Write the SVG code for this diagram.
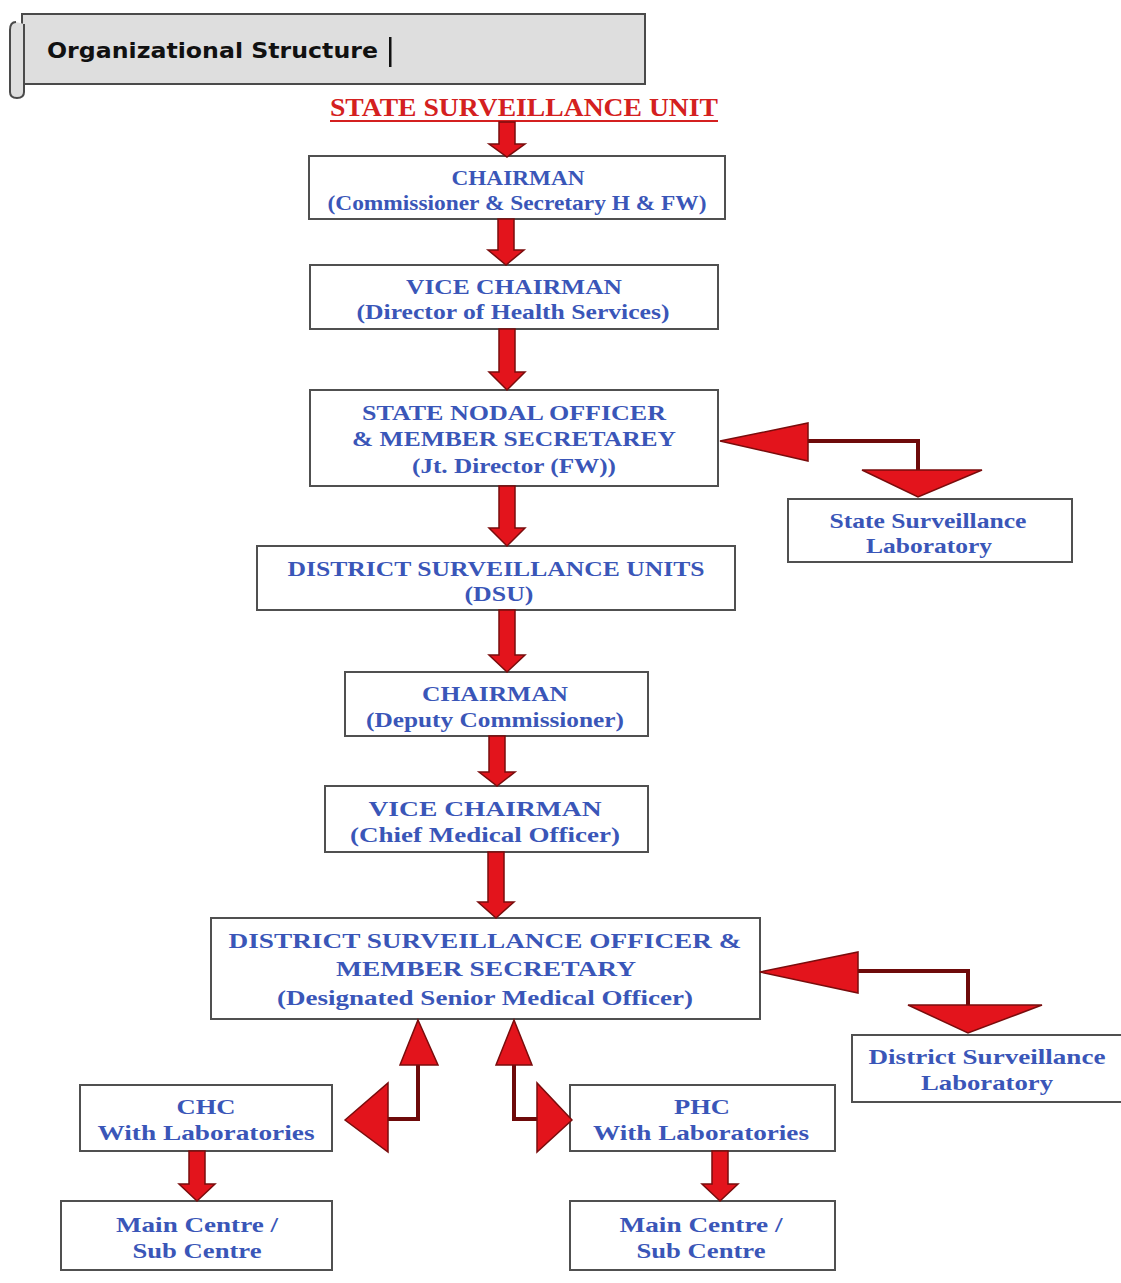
<svg xmlns="http://www.w3.org/2000/svg" width="1121" height="1283" viewBox="0 0 1121 1283">
<style>
.box{fill:#fff;stroke:#505050;stroke-width:2}
.t{font-family:"Liberation Serif","DejaVu Serif",serif;font-weight:bold;font-size:22px;fill:#3a56b8;text-anchor:middle}
.arr{fill:#e3141c;stroke:#7a0c0c;stroke-width:1.5;stroke-linejoin:miter}
.ln{fill:none;stroke:#6e0a0a;stroke-width:4}
</style>
<rect width="1121" height="1283" fill="#fff"/>
<g id="title">
<path d="M22 14 H645 V84 H22 Z" fill="#dedede" stroke="#4a4a4a" stroke-width="2"/>
<path d="M16 22 Q10 22 10 30 V92 Q10 98 17 98 Q24 98 24 92 V24" fill="#dedede" stroke="#4a4a4a" stroke-width="2"/>
<text x="47" y="58" font-family="DejaVu Sans, sans-serif" font-weight="bold" font-size="22" fill="#111" textLength="331" lengthAdjust="spacingAndGlyphs">Organizational Structure</text>
<rect x="389" y="37" width="2.5" height="30" fill="#111"/>
</g>
<g id="unit">
<text x="524" y="116" font-family="Liberation Serif, serif" font-weight="bold" font-size="26" fill="#d42020" text-anchor="middle" textLength="388" lengthAdjust="spacingAndGlyphs">STATE SURVEILLANCE UNIT</text>
<rect x="330" y="120" width="388" height="2" fill="#d42020"/>
</g>
<g id="n-chairman1"><rect class="box" x="309" y="156" width="416" height="63"/>
<text class="t" x="518" y="185" textLength="133" lengthAdjust="spacingAndGlyphs">CHAIRMAN</text>
<text class="t" x="517" y="210" textLength="379" lengthAdjust="spacingAndGlyphs">(Commissioner &amp; Secretary H &amp; FW)</text></g>
<g id="n-vice1"><rect class="box" x="310" y="265" width="408" height="64"/>
<text class="t" x="514" y="294" textLength="216" lengthAdjust="spacingAndGlyphs">VICE CHAIRMAN</text>
<text class="t" x="513" y="319" textLength="313" lengthAdjust="spacingAndGlyphs">(Director of Health Services)</text></g>
<g id="n-nodal"><rect class="box" x="310" y="390" width="408" height="96"/>
<text class="t" x="514" y="420" textLength="304" lengthAdjust="spacingAndGlyphs">STATE NODAL OFFICER</text>
<text class="t" x="514" y="446" textLength="324" lengthAdjust="spacingAndGlyphs">&amp; MEMBER SECRETAREY</text>
<text class="t" x="514" y="473" textLength="204" lengthAdjust="spacingAndGlyphs">(Jt. Director (FW))</text></g>
<g id="n-statelab"><rect class="box" x="788" y="499" width="284" height="63"/>
<text class="t" x="928" y="528" textLength="197" lengthAdjust="spacingAndGlyphs">State Surveillance</text>
<text class="t" x="929" y="553" textLength="126" lengthAdjust="spacingAndGlyphs">Laboratory</text></g>
<g id="n-dsu"><rect class="box" x="257" y="546" width="478" height="64"/>
<text class="t" x="496" y="576" textLength="417" lengthAdjust="spacingAndGlyphs">DISTRICT SURVEILLANCE UNITS</text>
<text class="t" x="499" y="601" textLength="69" lengthAdjust="spacingAndGlyphs">(DSU)</text></g>
<g id="n-chairman2"><rect class="box" x="345" y="672" width="303" height="64"/>
<text class="t" x="495" y="701" textLength="146" lengthAdjust="spacingAndGlyphs">CHAIRMAN</text>
<text class="t" x="495" y="727" textLength="258" lengthAdjust="spacingAndGlyphs">(Deputy Commissioner)</text></g>
<g id="n-vice2"><rect class="box" x="325" y="786" width="323" height="66"/>
<text class="t" x="485" y="816" textLength="233" lengthAdjust="spacingAndGlyphs">VICE CHAIRMAN</text>
<text class="t" x="485" y="842" textLength="270" lengthAdjust="spacingAndGlyphs">(Chief Medical Officer)</text></g>
<g id="n-dso"><rect class="box" x="211" y="918" width="549" height="101"/>
<text class="t" x="485" y="948" textLength="513" lengthAdjust="spacingAndGlyphs">DISTRICT SURVEILLANCE OFFICER &amp;</text>
<text class="t" x="486" y="976" textLength="300" lengthAdjust="spacingAndGlyphs">MEMBER SECRETARY</text>
<text class="t" x="485" y="1005" textLength="416" lengthAdjust="spacingAndGlyphs">(Designated Senior Medical Officer)</text></g>
<g id="n-distlab"><rect class="box" x="852" y="1035" width="272" height="67"/>
<text class="t" x="987" y="1064" textLength="237" lengthAdjust="spacingAndGlyphs">District Surveillance</text>
<text class="t" x="987" y="1090" textLength="132" lengthAdjust="spacingAndGlyphs">Laboratory</text></g>
<g id="n-chc"><rect class="box" x="80" y="1085" width="252" height="66"/>
<text class="t" x="206" y="1114" textLength="59" lengthAdjust="spacingAndGlyphs">CHC</text>
<text class="t" x="206" y="1140" textLength="217" lengthAdjust="spacingAndGlyphs">With Laboratories</text></g>
<g id="n-phc"><rect class="box" x="570" y="1085" width="265" height="66"/>
<text class="t" x="702" y="1114" textLength="56" lengthAdjust="spacingAndGlyphs">PHC</text>
<text class="t" x="701" y="1140" textLength="216" lengthAdjust="spacingAndGlyphs">With Laboratories</text></g>
<g id="n-main1"><rect class="box" x="61" y="1201" width="271" height="69"/>
<text class="t" x="197" y="1232" textLength="162" lengthAdjust="spacingAndGlyphs">Main Centre /</text>
<text class="t" x="197" y="1258" textLength="129" lengthAdjust="spacingAndGlyphs">Sub Centre</text></g>
<g id="n-main2"><rect class="box" x="570" y="1201" width="265" height="69"/>
<text class="t" x="701" y="1232" textLength="163" lengthAdjust="spacingAndGlyphs">Main Centre /</text>
<text class="t" x="701" y="1258" textLength="129" lengthAdjust="spacingAndGlyphs">Sub Centre</text></g>
<g id="connectors">
<path class="arr" d="M499 122 H515 V144 H525 L507 157 L489 144 H499 Z"/>
<path class="arr" d="M498 219 H514 V250 H524 L506 265 L488 250 H498 Z"/>
<path class="arr" d="M499 329 H515 V372 H525 L507 390 L489 372 H499 Z"/>
<path class="arr" d="M499 486 H515 V528 H525 L507 546 L489 528 H499 Z"/>
<path class="arr" d="M499 610 H515 V655 H525 L507 672 L489 655 H499 Z"/>
<path class="arr" d="M489 736 H505 V772 H515 L497 786 L479 772 H489 Z"/>
<path class="arr" d="M488 852 H504 V902 H514 L496 918 L478 902 H488 Z"/>
<path class="arr" d="M189 1151 H205 V1184 H215 L197 1201 L179 1184 H189 Z"/>
<path class="arr" d="M712 1151 H728 V1184 H738 L720 1201 L702 1184 H712 Z"/>
<path class="ln" d="M806 441 H918 V471"/>
<polygon class="arr" points="720,441 808,423 808,461"/>
<polygon class="arr" points="862,470 982,470 918,497"/>
<path class="ln" d="M856 971 H968 V1006"/>
<polygon class="arr" points="760,972 858,952 858,993"/>
<polygon class="arr" points="908,1005 1042,1005 968,1033"/>
<path class="ln" d="M418 1063 V1119 H386"/>
<polygon class="arr" points="418,1020 438,1065 400,1065"/>
<polygon class="arr" points="345,1120 388,1083 388,1152"/>
<path class="ln" d="M514 1063 V1119 H539"/>
<polygon class="arr" points="514,1020 532,1065 496,1065"/>
<polygon class="arr" points="572,1120 537,1083 537,1152"/>
</g>
</svg>
